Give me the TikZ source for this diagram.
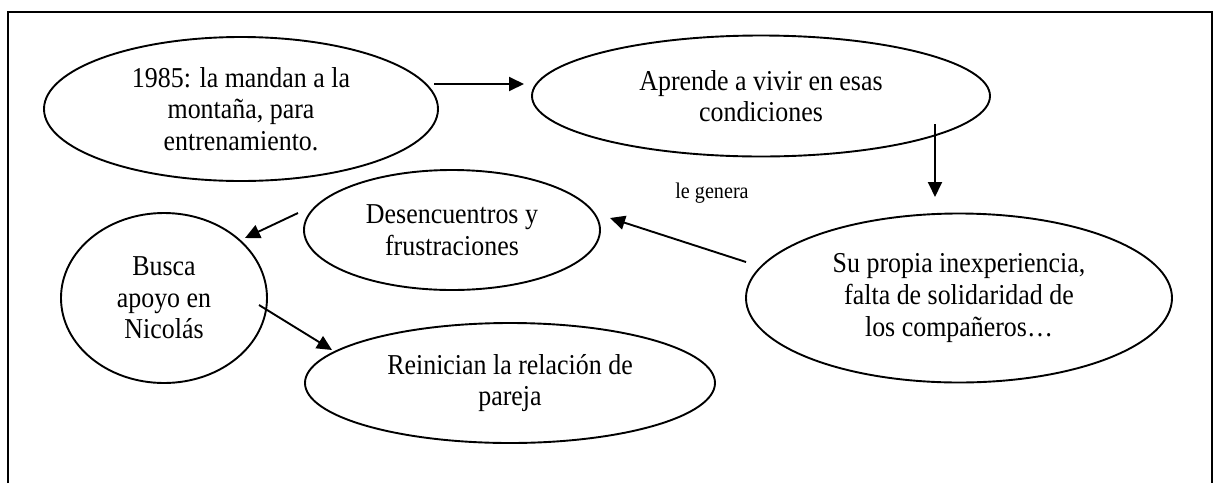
\documentclass[tikz,border=0pt]{standalone}
\usepackage{fontspec}
\setmainfont{Liberation Serif}[FakeStretch=0.9]
\usetikzlibrary{shapes.geometric,arrows.meta}
\begin{document}
\begin{tikzpicture}[x=0.5pt,y=-0.5pt,
  bubble/.style={draw,ellipse,line width=0.95pt,inner sep=0pt,align=center,
    font=\fontsize{14.4}{15.8}\selectfont},
  link/.style={line width=0.95pt,-{Triangle[length=7.5pt,width=7pt]}},
  small/.style={font=\fontsize{11.2}{12}\selectfont,inner sep=0pt}]
\useasboundingbox (0,0) rectangle (1217,483);
\draw[line width=1pt] (8,483) -- (8,12) -- (1212,12) -- (1212,483);
% nodes
\node[bubble,minimum width=197pt,minimum height=72pt] (e1) at (241,109)
  {1985: la mandan a la\\montaña, para\\entrenamiento.};
\node[bubble,minimum width=229pt,minimum height=60.5pt] (e2) at (761,96)
  {Aprende a vivir en esas\\condiciones};
\node[bubble,minimum width=148pt,minimum height=60pt] (e3) at (452,230)
  {Desencuentros y\\frustraciones};
\node[bubble,minimum width=103pt,minimum height=85pt] (e4) at (164,298)
  {Busca\\apoyo en\\Nicolás};
\node[bubble,minimum width=213pt,minimum height=84.5pt] (e5) at (959,298)
  {Su propia inexperiencia,\\falta de solidaridad de\\los compañeros…};
\node[bubble,minimum width=205pt,minimum height=60pt] (e6) at (510,383)
  {Reinician la relación de\\pareja};
\node[small] (lg) at (712,193) {le genera};
% connector ends
\coordinate (a1s) at (434,84);  \coordinate (a1e) at (524,84);
\coordinate (a2s) at (935,124); \coordinate (a2e) at (935,197);
\coordinate (a3s) at (746,262); \coordinate (a3e) at (610,218);
\coordinate (a4s) at (298,213); \coordinate (a4e) at (245,238);
\coordinate (a5s) at (259,305); \coordinate (a5e) at (332,350);
\draw[link] (a1s) -- (a1e);
\draw[link] (a2s) -- (a2e);
\draw[link] (a3s) -- (a3e);
\draw[link] (a4s) -- (a4e);
\draw[link] (a5s) -- (a5e);
\end{tikzpicture}
\end{document}
